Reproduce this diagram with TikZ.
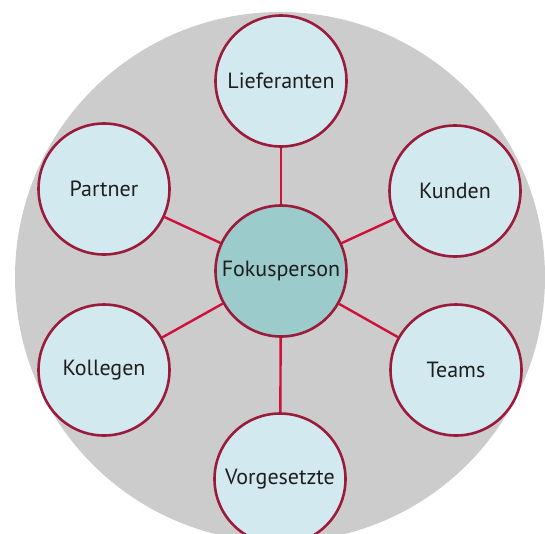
\documentclass[tikz,border=0pt]{standalone}
\usepackage{fontspec}
\setmainfont{PT Sans}
\definecolor{bggray}{HTML}{CCCCCC}
\definecolor{nodefill}{HTML}{D3E9F0}
\definecolor{centerfill}{HTML}{9CCBCC}
\definecolor{border}{HTML}{9B1B3B}
\definecolor{link}{HTML}{D0103A}
\definecolor{txt}{HTML}{1E1E1E}
\begin{document}
\begin{tikzpicture}[x=1pt,y=-1pt,
  outer/.style={circle,draw=border,line width=2.6pt,fill=nodefill,minimum size=131pt,inner sep=0pt,font=\fontsize{22}{26}\selectfont,text=txt},
  center/.style={outer,fill=centerfill},
  conn/.style={draw=link,line width=2.4pt}]
\useasboundingbox (0,0) rectangle (545,533);
\begin{scope}
\clip (0,0) rectangle (545,533);
\fill[bggray] (280,277) circle (265);
\end{scope}
\node[center] (f) at (281,271) {Fokusperson};
\node[outer] (lief) at (281,81) {Lieferanten};
\node[outer] (part) at (104,189) {Partner};
\node[outer] (kund) at (455,191) {Kunden};
\node[outer] (koll) at (104,370) {Kollegen};
\node[outer] (team) at (456,370) {Teams};
\node[outer] (vorg) at (280,479) {Vorgesetzte};
\foreach \n in {lief,part,kund,koll,team,vorg}{
  \draw[conn] (f) -- (\n);
}
\end{tikzpicture}
\end{document}
